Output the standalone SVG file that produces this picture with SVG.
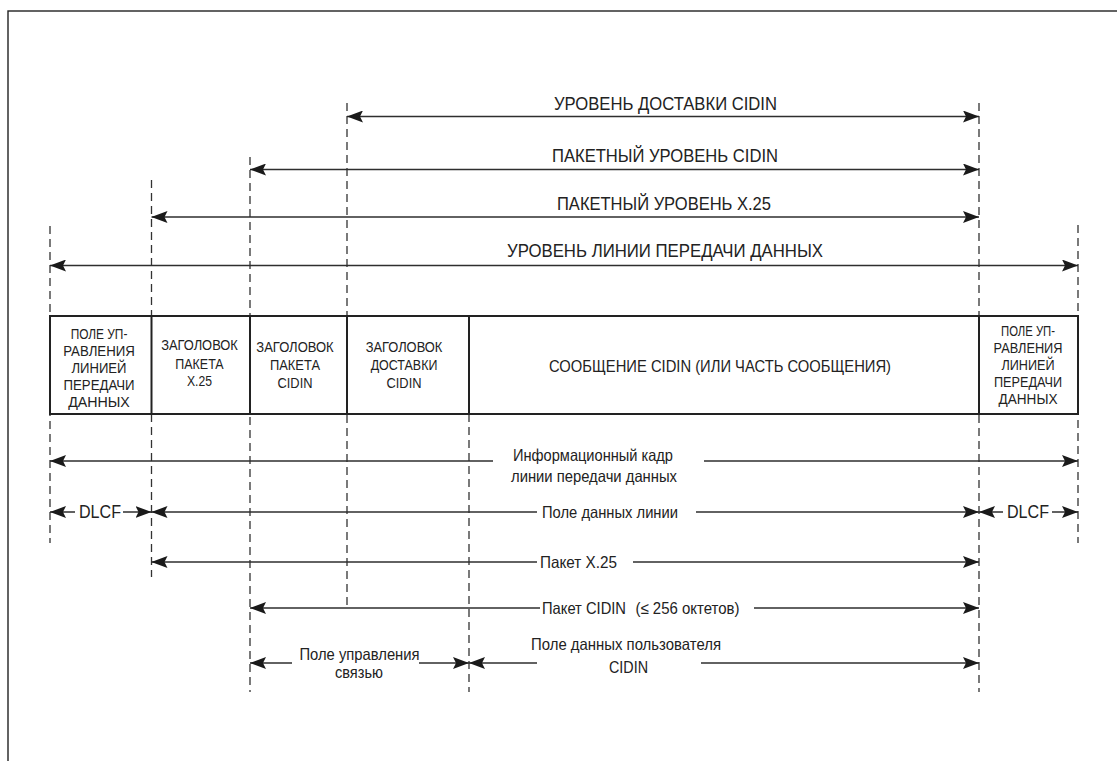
<svg xmlns="http://www.w3.org/2000/svg" width="1117" height="761" viewBox="0 0 1117 761">
<style>
.t{font-family:"Liberation Sans",Arial,sans-serif;fill:#222}
.top{font-size:18px}
.box{font-size:14px;text-anchor:middle}
.low{font-size:16.5px}
.ln{stroke:#2e2e2e;stroke-width:1.5;fill:none}
.dash{stroke:#333;stroke-width:1.3;stroke-dasharray:8 5;fill:none}
.frame{stroke:#222;stroke-width:1.4;fill:none}
.cell{stroke:#222;stroke-width:2;fill:#fff}
</style>
<defs>
<marker id="ah" viewBox="0 -6 16 12" refX="16" refY="0" markerWidth="16" markerHeight="12" markerUnits="userSpaceOnUse" orient="auto-start-reverse">
<path d="M0,-6 L16,0 L0,6 L3,0 Z" fill="#1a1a1a"/>
</marker>
</defs>
<rect x="0" y="0" width="1117" height="761" fill="#fff"/>
<rect class="frame" x="8" y="11" width="1200" height="800"/>

<g id="guides">
<line class="dash" x1="50" y1="226" x2="50" y2="543"/>
<line class="dash" x1="151.5" y1="180" x2="151.5" y2="577"/>
<line class="dash" x1="250" y1="157" x2="250" y2="692"/>
<line class="dash" x1="347" y1="103" x2="347" y2="608"/>
<line class="dash" x1="469" y1="414" x2="469" y2="692"/>
<line class="dash" x1="979" y1="103" x2="979" y2="692"/>
<line class="dash" x1="1078" y1="225" x2="1078" y2="543"/>
</g>

<g id="frame-structure">
<rect class="cell" x="50" y="316" width="1028" height="98"/>
<line class="cell" x1="151.5" y1="316" x2="151.5" y2="414"/>
<line class="cell" x1="250" y1="316" x2="250" y2="414"/>
<line class="cell" x1="347" y1="316" x2="347" y2="414"/>
<line class="cell" x1="469" y1="316" x2="469" y2="414"/>
<line class="cell" x1="979" y1="316" x2="979" y2="414"/>
</g>

<g id="cell-dlcf-left">
<text class="t box" x="99" y="339" textLength="56.7" lengthAdjust="spacingAndGlyphs">ПОЛЕ УП-</text>
<text class="t box" x="99" y="356" textLength="71.7" lengthAdjust="spacingAndGlyphs">РАВЛЕНИЯ</text>
<text class="t box" x="99" y="373" textLength="55" lengthAdjust="spacingAndGlyphs">ЛИНИЕЙ</text>
<text class="t box" x="99" y="390" textLength="71" lengthAdjust="spacingAndGlyphs">ПЕРЕДАЧИ</text>
<text class="t box" x="99" y="406.5" textLength="61.7" lengthAdjust="spacingAndGlyphs">ДАННЫХ</text>
</g>
<g id="cell-x25-header">
<text class="t box" x="199.5" y="350" textLength="76.7" lengthAdjust="spacingAndGlyphs">ЗАГОЛОВОК</text>
<text class="t box" x="199.5" y="368.5" textLength="48.3" lengthAdjust="spacingAndGlyphs">ПАКЕТА</text>
<text class="t box" x="199.5" y="386" textLength="25" lengthAdjust="spacingAndGlyphs">X.25</text>
</g>
<g id="cell-cidin-packet-header">
<text class="t box" x="295" y="351.5" textLength="77.3" lengthAdjust="spacingAndGlyphs">ЗАГОЛОВОК</text>
<text class="t box" x="295" y="370" textLength="50" lengthAdjust="spacingAndGlyphs">ПАКЕТА</text>
<text class="t box" x="295" y="388" textLength="35" lengthAdjust="spacingAndGlyphs">CIDIN</text>
</g>
<g id="cell-cidin-delivery-header">
<text class="t box" x="404" y="351.5" textLength="76.7" lengthAdjust="spacingAndGlyphs">ЗАГОЛОВОК</text>
<text class="t box" x="404" y="370" textLength="66.7" lengthAdjust="spacingAndGlyphs">ДОСТАВКИ</text>
<text class="t box" x="404" y="388" textLength="35" lengthAdjust="spacingAndGlyphs">CIDIN</text>
</g>
<g id="cell-message">
<text class="t low" x="549" y="371.5" textLength="342" lengthAdjust="spacingAndGlyphs">СООБЩЕНИЕ CIDIN (ИЛИ ЧАСТЬ СООБЩЕНИЯ)</text>
</g>
<g id="cell-dlcf-right">
<text class="t box" x="1028" y="336" textLength="54" lengthAdjust="spacingAndGlyphs">ПОЛЕ УП-</text>
<text class="t box" x="1028" y="353" textLength="69" lengthAdjust="spacingAndGlyphs">РАВЛЕНИЯ</text>
<text class="t box" x="1028" y="370" textLength="53" lengthAdjust="spacingAndGlyphs">ЛИНИЕЙ</text>
<text class="t box" x="1028" y="387" textLength="68" lengthAdjust="spacingAndGlyphs">ПЕРЕДАЧИ</text>
<text class="t box" x="1028" y="403.5" textLength="59" lengthAdjust="spacingAndGlyphs">ДАННЫХ</text>
</g>

<g id="connectors">
<line class="ln" x1="347" y1="116.5" x2="979" y2="116.5" marker-start="url(#ah)" marker-end="url(#ah)"/>
<line class="ln" x1="250" y1="169.5" x2="979" y2="169.5" marker-start="url(#ah)" marker-end="url(#ah)"/>
<line class="ln" x1="151.5" y1="217" x2="979" y2="217" marker-start="url(#ah)" marker-end="url(#ah)"/>
<line class="ln" x1="50" y1="265.5" x2="1078" y2="265.5" marker-start="url(#ah)" marker-end="url(#ah)"/>

<line class="ln" x1="50" y1="461" x2="493" y2="461" marker-start="url(#ah)"/>
<line class="ln" x1="704" y1="461" x2="1078" y2="461" marker-end="url(#ah)"/>

<line class="ln" x1="50" y1="512" x2="75" y2="512" marker-start="url(#ah)"/>
<line class="ln" x1="123" y1="512" x2="151.5" y2="512" marker-end="url(#ah)"/>
<line class="ln" x1="151.5" y1="512" x2="537" y2="512" marker-start="url(#ah)"/>
<line class="ln" x1="696" y1="512" x2="979" y2="512" marker-end="url(#ah)"/>
<line class="ln" x1="979" y1="512" x2="1003" y2="512" marker-start="url(#ah)"/>
<line class="ln" x1="1052" y1="512" x2="1078" y2="512" marker-end="url(#ah)"/>

<line class="ln" x1="151.5" y1="562" x2="537" y2="562" marker-start="url(#ah)"/>
<line class="ln" x1="633" y1="562" x2="979" y2="562" marker-end="url(#ah)"/>

<line class="ln" x1="250" y1="608" x2="540" y2="608" marker-start="url(#ah)"/>
<line class="ln" x1="754" y1="608" x2="979" y2="608" marker-end="url(#ah)"/>

<line class="ln" x1="250" y1="663" x2="292" y2="663" marker-start="url(#ah)"/>
<line class="ln" x1="419" y1="663" x2="469" y2="663" marker-end="url(#ah)"/>
<line class="ln" x1="469" y1="663" x2="537" y2="663" marker-start="url(#ah)"/>
<line class="ln" x1="701" y1="663" x2="979" y2="663" marker-end="url(#ah)"/>
</g>

<g id="labels">
<text class="t top" x="554" y="110" textLength="223" lengthAdjust="spacingAndGlyphs">УРОВЕНЬ ДОСТАВКИ CIDIN</text>
<text class="t top" x="552" y="161.5" textLength="226" lengthAdjust="spacingAndGlyphs">ПАКЕТНЫЙ УРОВЕНЬ CIDIN</text>
<text class="t top" x="557" y="209.5" textLength="214" lengthAdjust="spacingAndGlyphs">ПАКЕТНЫЙ УРОВЕНЬ X.25</text>
<text class="t top" x="507" y="257" textLength="316" lengthAdjust="spacingAndGlyphs">УРОВЕНЬ ЛИНИИ ПЕРЕДАЧИ ДАННЫХ</text>

<text class="t low" x="513" y="460.5" textLength="160" lengthAdjust="spacingAndGlyphs">Информационный кадр</text>
<text class="t low" x="511" y="482" textLength="166" lengthAdjust="spacingAndGlyphs">линии передачи данных</text>
<text class="t top" x="79" y="518" textLength="42" lengthAdjust="spacingAndGlyphs">DLCF</text>
<text class="t low" x="542" y="517.5" textLength="136" lengthAdjust="spacingAndGlyphs">Поле данных линии</text>
<text class="t top" x="1007" y="518" textLength="42" lengthAdjust="spacingAndGlyphs">DLCF</text>
<text class="t low" x="540" y="567.5" textLength="77" lengthAdjust="spacingAndGlyphs">Пакет X.25</text>
<text class="t low" x="542" y="613.5" textLength="84" lengthAdjust="spacingAndGlyphs">Пакет CIDIN</text>
<text class="t low" x="635.5" y="613.5" textLength="104" lengthAdjust="spacingAndGlyphs">(≤ 256 октетов)</text>
<text class="t low" x="299.5" y="659.5" textLength="120" lengthAdjust="spacingAndGlyphs">Поле управления</text>
<text class="t low" x="335" y="678" textLength="48" lengthAdjust="spacingAndGlyphs">связью</text>
<text class="t low" x="531" y="649.5" textLength="190" lengthAdjust="spacingAndGlyphs">Поле данных пользователя</text>
<text class="t low" x="609" y="673" textLength="39" lengthAdjust="spacingAndGlyphs">CIDIN</text>
</g>
</svg>
